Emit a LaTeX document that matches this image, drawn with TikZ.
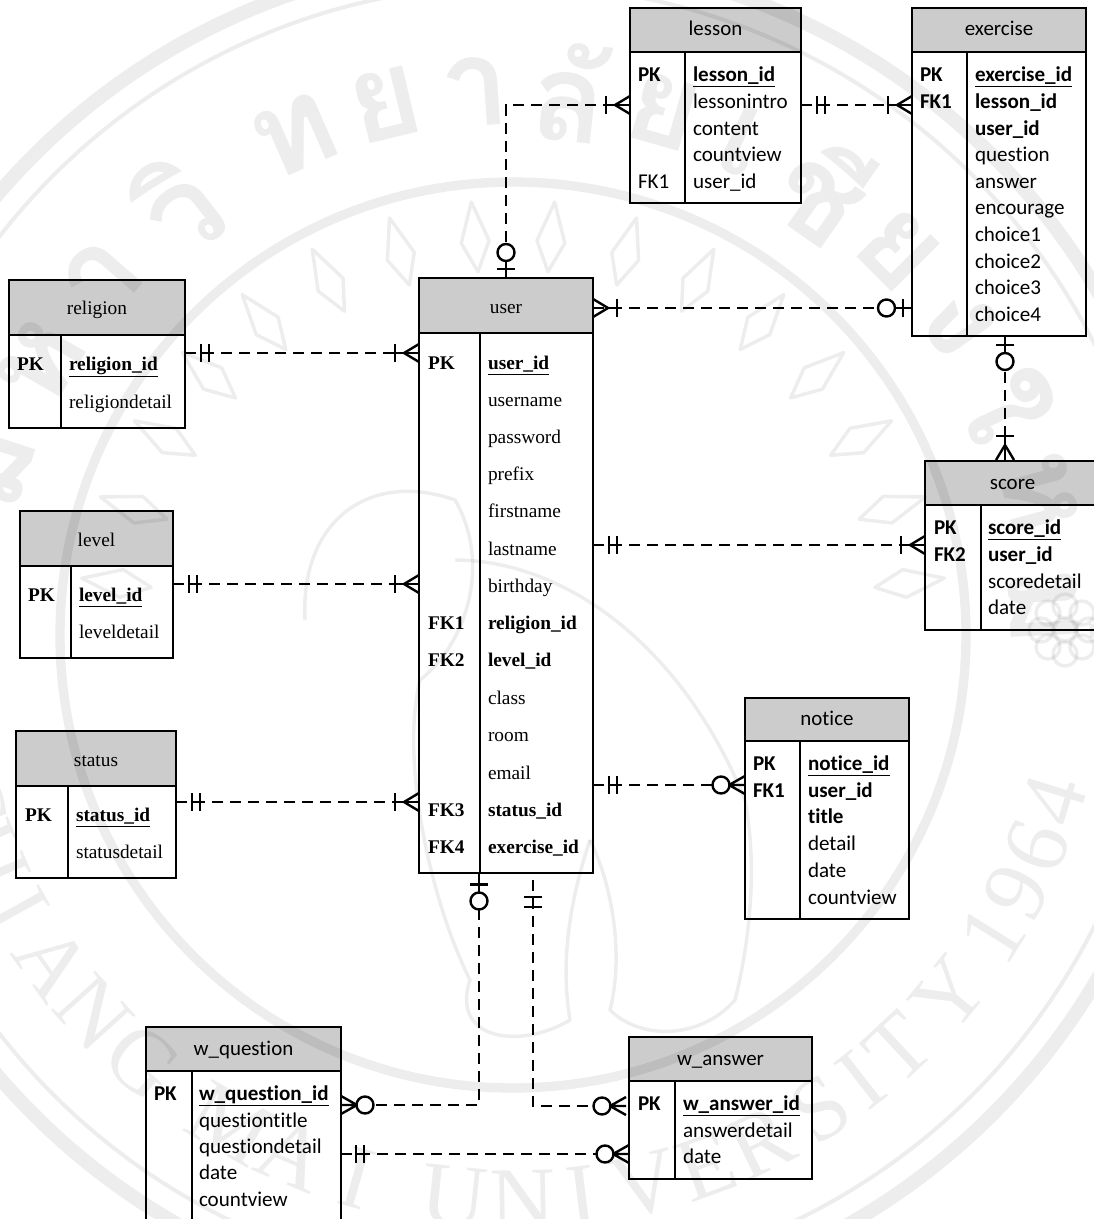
\documentclass[tikz,border=0pt]{standalone}
\usepackage{fontspec}
\setmainfont[Ligatures=NoCommon]{Carlito}
\newfontfamily\timesf{Liberation Serif}
\newfontfamily\thaif[Script=Thai]{Loma}
\usetikzlibrary{calc}
\newcommand{\unitpt}{0.75pt}
\tikzset{
  x=0.75pt,y=-0.75pt,
  entbox/.style={draw=black,line width=1.2pt,inner sep=0,outer sep=0,anchor=north west},
  div/.style={draw=black,line width=1.2pt},
  conn/.style={draw=black,line width=1.7pt,dash pattern=on 8.5pt off 5pt},
  glyph/.style={draw=black,line width=1.8pt,solid},
  rowtext/.style={anchor=base west,inner sep=0,outer sep=0,yshift=-0.2pt,font=\fontsize{15.8}{18}\selectfont},
  rowtimes/.style={anchor=base west,inner sep=0,outer sep=0,yshift=0.3pt,font=\timesf\fontsize{14.5}{18}\selectfont},
  titletext/.style={anchor=base,inner sep=0,outer sep=0,font=\fontsize{15.7}{18}\selectfont},
  wminner/.style={draw=black,line width=7pt},
  wmthin/.style={draw=black,line width=3pt},
  wmthick/.style={draw=black,line width=10.5pt},
  wmline/.style={draw=black,line width=2.6pt,line join=round},
  wmletter/.style={inner sep=0,font=\timesf\fontsize{68}{72}\selectfont},
  wmthai/.style={inner sep=0,font=\thaif\bfseries\fontsize{92}{96}\selectfont},
  pics/crowbar/.style={code={
    \draw[glyph] (0,0) -- (24,0) (24,-9) -- (24,9);
    \draw[glyph] (0,-9) -- (15,0) -- (0,9);}},
  pics/crowopen/.style={code={
    \draw[glyph] (15,0) -- (24,0) (24,-9) -- (24,9);
    \draw[glyph] (0,-9) -- (15,0) -- (0,9);}},
  pics/twobars/.style={code={
    \draw[glyph] (16,0) -- (24,0) (16,-9) -- (16,9) (24,-9) -- (24,9);}},
  pics/barcircle/.style={code={
    \draw[glyph] (0,0) -- (17,0) (9,-9) -- (9,9);
    \draw[glyph,fill=white] (25.5,0) ellipse [x radius=8.5,y radius=8.5];}},
  pics/crowcircle/.style={code={
    \draw[glyph] (0,-9) -- (16,0) -- (0,9) (0,0) -- (16,0);
    \draw[glyph,fill=white] (24,0) ellipse [x radius=8.5,y radius=8.5];}},
}
\definecolor{hdrgray}{HTML}{CCCCCC}
% name, x1, y1, x2, y2, header bottom, divider, title, title baseline
\newcommand{\entity}[9]{%
  \fill[hdrgray] (#2,#3) rectangle (#4,#6);
  \node[entbox,minimum width={(#4-#2)*\unitpt},minimum height={(#5-#3)*\unitpt}] (#1) at (#2,#3) {};
  \draw[div] (#2,#6) -- (#4,#6) (#7,#6) -- (#7,#5);
  \node[titletext] (#1title) at ({(#2+#4)/2},#9) {#8};
}
\newcommand{\tmstitle}[1]{\timesf\fontsize{14.5}{18}\selectfont #1}
\begin{document}
\begin{tikzpicture}
\useasboundingbox (0,0) rectangle (1094,1219);
\clip (0,0) rectangle (1094,1219);

% ---------- entities ----------
\entity{lesson}{630}{8}{801}{203}{52}{685}{lesson}{36}
\foreach \t/\y/\k in {{\underline{\textbf{lesson\_id}}}/81/a,lessonintro/108/b,content/135/c,countview/161/d,user\_id/188/e}
  \node[rowtext] (lesson\k) at (693,\y) {\t};
\node[rowtext] (lessonpk) at (638,81) {\textbf{PK}};
\node[rowtext] (lessonfk) at (638,188) {FK1};

\entity{exercise}{912}{8}{1086}{336}{52}{967}{exercise}{36}
\foreach \t/\y/\k in {{\underline{\textbf{exercise\_id}}}/81/a,{\textbf{lesson\_id}}/108/b,{\textbf{user\_id}}/135/c,question/161/d,answer/188/e,encourage/214/f,choice1/241/g,choice2/268/h,choice3/294/i,choice4/321/j}
  \node[rowtext] (exercise\k) at (975,\y) {\t};
\node[rowtext] (exercisepk) at (920,81) {\textbf{PK}};
\node[rowtext] (exercisefk) at (920,108) {\textbf{FK1}};

\entity{score}{925}{461}{1100}{630}{505}{981}{score}{489}
\foreach \t/\y/\k in {{\underline{\textbf{score\_id}}}/534/a,{\textbf{user\_id}}/561/b,scoredetail/588/c,date/614/d}
  \node[rowtext] (score\k) at (988,\y) {\t};
\node[rowtext] (scorepk) at (934,534) {\textbf{PK}};
\node[rowtext] (scorefk) at (934,561) {\textbf{FK2}};

\entity{notice}{745}{698}{909}{919}{741}{800}{notice}{725}
\foreach \t/\y/\k in {{\underline{\textbf{notice\_id}}}/770/a,{\textbf{user\_id}}/797/b,{\textbf{title}}/823/c,detail/850/d,date/877/e,countview/904/f}
  \node[rowtext] (notice\k) at (808,\y) {\t};
\node[rowtext] (noticepk) at (753,770) {\textbf{PK}};
\node[rowtext] (noticefk) at (753,797) {\textbf{FK1}};

\entity{wq}{146}{1027}{341}{1230}{1071}{192}{w\_question}{1055}
\foreach \t/\y/\k in {{\underline{\textbf{w\_question\_id}}}/1100/a,questiontitle/1127/b,questiondetail/1153/c,date/1179/d,countview/1206/e}
  \node[rowtext] (wq\k) at (199,\y) {\t};
\node[rowtext] (wqpk) at (154,1100) {\textbf{PK}};

\entity{wa}{629}{1037}{812}{1179}{1081}{675}{w\_answer}{1065}
\foreach \t/\y/\k in {{\underline{\textbf{w\_answer\_id}}}/1110/a,answerdetail/1137/b,date/1163/c}
  \node[rowtext] (wa\k) at (683,\y) {\t};
\node[rowtext] (wapk) at (638,1110) {\textbf{PK}};

\entity{user}{419}{278}{593}{873}{333}{480}{\tmstitle{user}}{314}
\foreach \t/\y/\k in {{\underline{\textbf{user\_id}}}/370/a,username/407/b,password/444/c,prefix/481/d,firstname/518/e,lastname/556/f,birthday/593/g,{\textbf{religion\_id}}/630/h,{\textbf{level\_id}}/667/i,class/705/j,room/742/k,email/780/l,{\textbf{status\_id}}/817/m,{\textbf{exercise\_id}}/854/n}
  \node[rowtimes] (user\k) at (488,\y) {\t};
\foreach \t/\y/\k in {PK/370/a,FK1/630/b,FK2/667/c,FK3/817/d,FK4/854/e}
  \node[rowtimes] (userkey\k) at (428,\y) {\textbf{\t}};

\entity{religion}{9}{280}{185}{428}{335}{61}{\tmstitle{religion}}{315}
\node[rowtimes] (religionpk) at (17,371) {\textbf{PK}};
\node[rowtimes] (religiona) at (69,371) {\underline{\textbf{religion\_id}}};
\node[rowtimes] (religionb) at (69,409) {religiondetail};

\entity{level}{20}{511}{173}{658}{566}{71}{\tmstitle{level}}{546}
\node[rowtimes] (levelpk) at (28,602) {\textbf{PK}};
\node[rowtimes] (levela) at (79,602) {\underline{\textbf{level\_id}}};
\node[rowtimes] (levelb) at (79,639) {leveldetail};

\entity{status}{16}{731}{176}{878}{786}{68}{\tmstitle{status}}{766}
\node[rowtimes] (statuspk) at (25,822) {\textbf{PK}};
\node[rowtimes] (statusa) at (76,822) {\underline{\textbf{status\_id}}};
\node[rowtimes] (statusb) at (76,859) {statusdetail};

% ---------- connector ends ----------
\coordinate (lu0) at (user.north -| 506,0);
\coordinate (ex0) at (exercise.south -| 1005,0);
\coordinate (sc0) at (score.north -| 1005,0);
\coordinate (ub1) at (user.south -| 479,0);
\coordinate (ub2) at (533,880);
\coordinate (qc) at (479,1105);
\coordinate (ac) at (533,1106);

% ---------- connectors ----------
\draw[conn] (lu0) -- (506,105) -- (lesson.west |- 0,105);
\draw[conn] (lesson.east |- 0,105) -- (exercise.west |- 0,105);
\draw[conn] (user.east |- 0,308) -- (exercise.west |- 0,308);
\draw[conn] (ex0) -- (sc0);
\draw[conn] (religion.east |- 0,353) -- (user.west |- 0,353);
\draw[conn] (level.east |- 0,584) -- (user.west |- 0,584);
\draw[conn] (status.east |- 0,802) -- (user.west |- 0,802);
\draw[conn] (user.east |- 0,545) -- (score.west |- 0,545);
\draw[conn] (user.east |- 0,785) -- (notice.west |- 0,785);
\draw[conn] (ub1) -- (qc) -- (wq.east |- 0,1105);
\draw[conn] (ub2) -- (ac) -- (wa.west |- 0,1106);
\draw[conn] (wq.east |- 0,1154) -- (wa.west |- 0,1154);

% ---------- crow's-foot ends (local +x points away from the box) ----------
\pic[rotate=90] at (lu0) {barcircle};
\pic[rotate=180] at (lesson.west |- 0,105) {crowbar};
\pic at (lesson.east |- 0,105) {twobars};
\pic[rotate=180] at (exercise.west |- 0,105) {crowbar};
\pic at (user.east |- 0,308) {crowopen};
\pic[rotate=180] at (exercise.west |- 0,308) {barcircle};
\pic[rotate=-90] at (ex0) {barcircle};
\pic[rotate=90] at ($(sc0)+(0,-1)$) {crowbar};
\pic at (religion.east |- 0,353) {twobars};
\pic[rotate=180] at (user.west |- 0,353) {crowbar};
\pic at (level.east |- 0,584) {twobars};
\pic[rotate=180] at (user.west |- 0,584) {crowbar};
\pic at (status.east |- 0,802) {twobars};
\pic[rotate=180] at (user.west |- 0,802) {crowbar};
\pic at (user.east |- 0,545) {twobars};
\pic[rotate=180] at (score.west |- 0,545) {crowbar};
\pic at (user.east |- 0,785) {twobars};
\pic[rotate=180] at (notice.west |- 0,785) {crowcircle};
\pic[rotate=-90] at ($(ub1)+(0,2.5)$) {barcircle};
\draw[glyph] (524,897) -- (542,897) (524,907) -- (542,907) (533,897) -- (533,907);
\pic at (wq.east |- 0,1105) {crowcircle};
\pic[rotate=180] at ($(wa.west |- 0,1106)+(-3,0)$) {crowcircle};
\pic at ($(wq.east |- 0,1154)+(-1,0)$) {twobars};
\pic[rotate=180] at (wa.west |- 0,1154) {crowcircle};

% ---------- faint watermark over everything ----------
\begin{scope}[opacity=0.07]
  \draw[wminner] (513,635) circle [radius=453];
  \draw[wmthin] (513,635) circle [radius=650];
  \draw[wmthick] (513,635) circle [radius=678];
  \foreach \a/\l in {-163/C,-157/H,-151/I,-144.5/A,-138/N,-131/G,-120/M,-113/A,-106/I,-96/U,-89/N,-83/I,-76.5/V,-70/E,-64/R,-57/S,-52/I,-47/T,-39.5/Y,-32/1,-27/9,-22/6,-17/4}
    \node[wmletter,rotate={\a+90}] (wml\a) at ({513+565*cos(\a)},{635-565*sin(\a)}) {\l};
  \foreach \a/\l in {162/ม,150/ห,139/า,128/วิ,113.6/ท,103.5/ย,94/า,84/ลั,74/ย,65/เ,55/ชี,45/ย,35/ง,25/ใ,15/ห,3/ม่}
    \node[wmthai,rotate={\a-90}] (wmt\a) at ({513+545*cos(\a)},{635-545*sin(\a)}) {\l};
  % rays of the emblem
  \foreach \a in {-82.5,-71.5,-60.5,-49.5,-38.5,-27.5,-16.5,-5.5,5.5,16.5,27.5,38.5,49.5,60.5,71.5,82.5} {
    \begin{scope}[shift={(513,635)},rotate=\a]
      \draw[wmline] (0,-365) -- (-14,-395) -- (0,-435) -- (14,-395) -- cycle;
    \end{scope}
  }
  % elephant
  \draw[wmline] (455,560) .. controls (560,560) and (680,640) .. (745,800)
     .. controls (760,880) and (745,960) .. (735,1000)
     .. controls (700,1040) and (640,1040) .. (610,1010)
     .. controls (625,950) and (610,880) .. (590,840);
  \draw[wmline] (305,620) .. controls (300,520) and (370,470) .. (455,500)
     .. controls (490,560) and (470,640) .. (420,680)
     .. controls (400,760) and (430,900) .. (470,980)
     .. controls (450,1040) and (520,1050) .. (570,1020)
     .. controls (560,960) and (570,900) .. (590,840);
  % flower
  \foreach \a in {0,45,...,315} {
    \draw[wmline] ({1065+24*cos(\a)},{630+24*sin(\a)}) circle [radius=12];
  }
  \draw[wmline] (1065,630) circle [radius=11];
\end{scope}
\end{tikzpicture}
\end{document}
